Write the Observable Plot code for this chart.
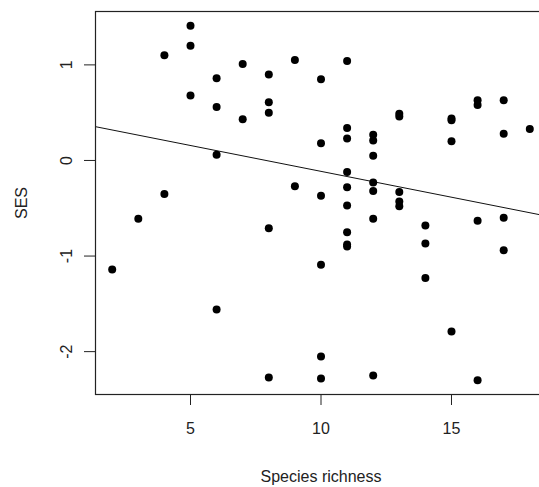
<!DOCTYPE html>
<html>
<head>
<meta charset="utf-8">
<script src="https://cdn.jsdelivr.net/npm/d3@7"></script>
<script src="https://cdn.jsdelivr.net/npm/@observablehq/plot@0.6"></script>
<style>
  html, body { margin: 0; padding: 0; background: #fff; }
  #chart svg { display: block; }
</style>
</head>
<body>
<div id="chart"></div>
<script>
// Species richness per community and its standardized effect size (SES)
const richness = [2, 3, 4, 4, 5, 5, 5, 6, 6, 6, 6, 7, 7, 8, 8, 8, 8, 8, 9, 9,
  10, 10, 10, 10, 10, 10, 11, 11, 11, 11, 11, 11, 11, 11, 11,
  12, 12, 12, 12, 12, 12, 12, 13, 13, 13, 13, 13, 14, 14, 14,
  15, 15, 15, 15, 16, 16, 16, 16, 17, 17, 17, 17, 18];
const ses = [-1.14, -0.61, 1.10, -0.35, 1.41, 1.20, 0.68, 0.86, 0.56, 0.06, -1.56, 1.01, 0.43,
  0.90, 0.61, 0.50, -0.71, -2.27, 1.05, -0.27,
  0.85, 0.18, -0.37, -1.09, -2.05, -2.28,
  1.04, 0.34, 0.23, -0.12, -0.28, -0.47, -0.75, -0.88, -0.90,
  0.27, 0.21, 0.05, -0.23, -0.32, -0.61, -2.25,
  0.49, 0.46, -0.33, -0.43, -0.48,
  -0.68, -0.87, -1.23,
  0.44, 0.42, 0.20, -1.79,
  0.63, 0.58, -0.63, -2.30,
  0.63, 0.28, -0.60, -0.94,
  0.33];
const xTicks = [5, 10, 15];
const yTicks = [-2, -1, 0, 1];
const xTitle = "Species richness";
const yTitle = "SES";

// Fitted trend line (abline): intercept and slope of the model
const fitIntercept = 0.427;
const fitSlope = -0.0541;

const points = richness.map((r, i) => ({richness: r, ses: ses[i]}));

// R-style padding: data range extended by 4% on each side
const xExt = d3.extent(richness), yExt = d3.extent(ses);
const xPad = (xExt[1] - xExt[0]) * 0.04, yPad = (yExt[1] - yExt[0]) * 0.04;
const xDomain = [xExt[0] - xPad, xExt[1] + xPad];
const yDomain = [yExt[0] - yPad, yExt[1] + yPad];
const fitLine = xDomain.map(x => ({richness: x, ses: fitIntercept + fitSlope * x}));

const ink = "#222";

const chart = Plot.plot({
  width: 539,
  height: 487,
  marginLeft: 95,
  marginRight: -7,
  marginTop: 11,
  marginBottom: 93,
  style: {fontFamily: "'Liberation Sans', Arial, sans-serif", fontSize: "16px", color: ink, background: "#fff"},
  x: {domain: xDomain},
  y: {domain: yDomain},
  marks: [
    Plot.axisX(xTicks, {tickSize: 11, tickPadding: 17, fontSize: 16, label: null, stroke: ink, fill: ink}),
    Plot.axisY(yTicks, {tickSize: 11, tickFormat: () => "", label: null, stroke: ink}),
    Plot.text(yTicks, {y: d => d, text: d => String(d), frameAnchor: "left", dx: -29, rotate: -90,
      textAnchor: "middle", lineAnchor: "middle", fontSize: 16, fill: ink}),
    Plot.text([yTitle], {frameAnchor: "left", dx: -74, rotate: -90, textAnchor: "middle",
      lineAnchor: "middle", fontSize: 16, fill: ink}),
    Plot.text([xTitle], {frameAnchor: "bottom", dy: 82, textAnchor: "middle",
      lineAnchor: "middle", fontSize: 16, fill: ink}),
    Plot.line(fitLine, {x: "richness", y: "ses", stroke: "#111", strokeWidth: 1, clip: true}),
    Plot.dot(points, {x: "richness", y: "ses", r: 4, fill: "#000", stroke: "none"}),
    Plot.frame({stroke: ink, strokeWidth: 1.2})
  ]
});

document.getElementById("chart").appendChild(chart);
</script>
</body>
</html>
